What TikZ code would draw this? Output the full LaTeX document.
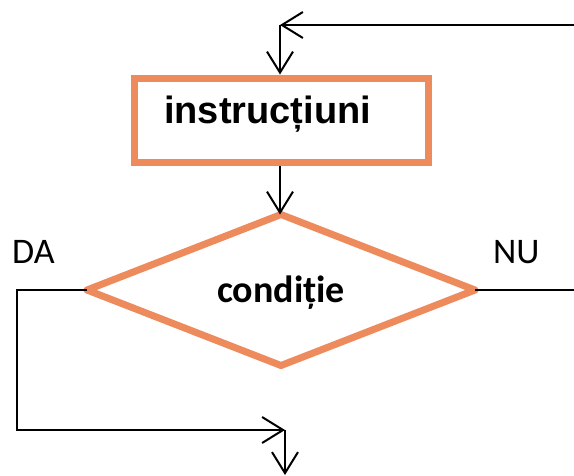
\documentclass[tikz,border=0pt]{standalone}
\usepackage{fontspec}
\setmainfont{Liberation Sans}
\newfontfamily\calibri{Carlito}
\usetikzlibrary{shapes.geometric,arrows.meta}
\definecolor{boxorange}{RGB}{237,139,92}
\tikzset{
  flowbox/.style={draw=boxorange, line width=7pt, minimum width=294pt, minimum height=84pt, inner sep=0pt},
  decision/.style={diamond, draw=boxorange, line width=7pt, line join=round, minimum width=388pt, minimum height=151pt, inner sep=0pt, outer sep=0pt},
  conn/.style={draw=black, line width=2pt},
  arr/.style={conn, -{Straight Barb[length=21pt,width=26pt,line width=2pt]}},
}
\begin{document}
\begin{tikzpicture}[x=1pt,y=-1pt]
\useasboundingbox (0,0) rectangle (574,475);
% nodes
\node[flowbox] (instr) at (281,120) {};
\node[inner sep=0pt, anchor=base west, font=\bfseries\fontsize{38}{40}\selectfont] (instrtext) at (164,123) {instrucțiuni};
\node[decision] (cond) at (281,290) {};
\node[inner sep=0pt, anchor=base, font=\calibri\bfseries\fontsize{38}{40}\selectfont] (condtext) at (281,302) {condiție};
\node[inner sep=0pt, anchor=base west, font=\calibri\fontsize{36}{38}\selectfont] (da) at (12,263) {DA};
\node[inner sep=0pt, anchor=base west, font=\calibri\fontsize{36}{38}\selectfont] (nu) at (493,263) {NU};
% coordinates
\coordinate (topR) at (574,25);
\coordinate (topL) at (280,25);
\coordinate (daX) at (17,430);
\coordinate (daJ) at (285,430);
\coordinate (bottom) at (285,475);
\coordinate (nuEnd) at (574,290);
% connectors
\draw[arr] (topR) -- (topL);
\draw[arr] (topL) -- (topL |- instr.north);
\draw[arr] (topL |- instr.south) -- (topL |- cond.north);
\draw[arr] (cond.west) -- (cond.west -| daX) -- (daX) -- (daJ);
\draw[arr] (daJ) -- (bottom);
\draw[conn] (cond.east) -- (nuEnd);
\end{tikzpicture}
\end{document}
